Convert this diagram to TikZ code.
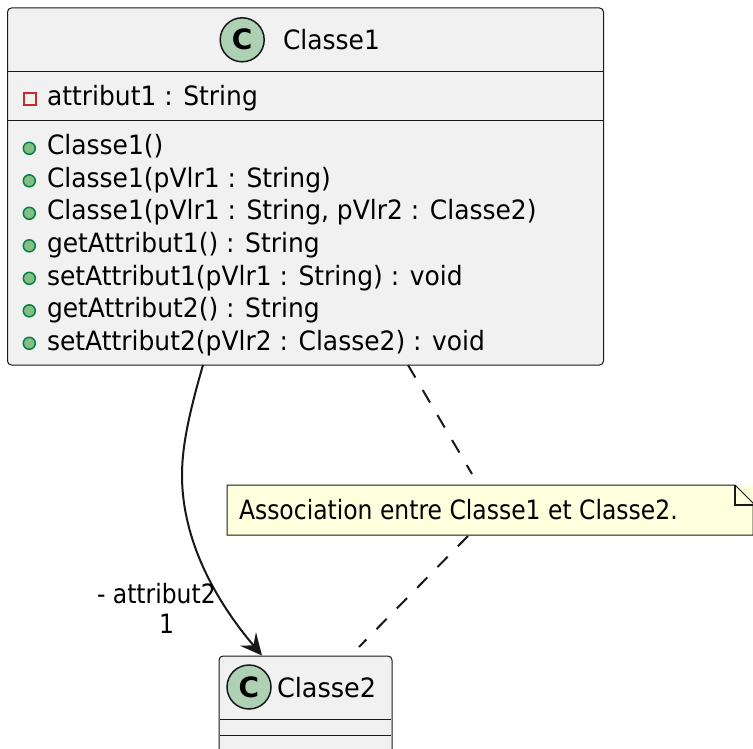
\documentclass[tikz,border=0pt]{standalone}
\usepackage{fontspec}
\setmainfont{DejaVu Sans}
\newfontfamily\fontA{DejaVu Sans}[FakeStretch=0.9386]
\newfontfamily\fontB{DejaVu Sans}[FakeStretch=0.882]
\newfontfamily\fontC{DejaVu Sans}[FakeStretch=0.96]
\newfontfamily\spotfont{DejaVu Sans}
\usetikzlibrary{arrows.meta}
\definecolor{boxfill}{HTML}{F1F1F1}
\definecolor{ink}{HTML}{181818}
\definecolor{spotfill}{HTML}{ADD1B2}
\definecolor{notefill}{HTML}{FEFFDD}
\definecolor{privred}{HTML}{C82930}
\definecolor{pubgreen}{HTML}{038048}
\definecolor{pubfill}{HTML}{84BE84}
\tikzset{
  x=1pt,y=-1pt,
  every node/.style={inner sep=0pt,outer sep=0pt},
  classbox/.style={draw=ink,fill=boxfill,line width=1pt,rounded corners=4pt,anchor=north west},
  divider/.style={draw=ink,line width=1pt},
  spot/.style={circle,draw=ink,fill=spotfill,line width=1.5pt,minimum size=44pt,font=\spotfont\bfseries\fontsize{28}{28}\selectfont},
  txt/.style={anchor=base west,font=\fontA\fontsize{26.6}{32}\selectfont,text=black},
  txtb/.style={txt,font=\fontB\fontsize{26.6}{32}\selectfont},
  txtc/.style={txt,font=\fontC\fontsize{26.6}{32}\selectfont},
  privmark/.style={rectangle,draw=privred,line width=2pt,minimum width=12pt,minimum height=12pt},
  pubmark/.style={circle,draw=pubgreen,fill=pubfill,line width=1.5pt,minimum size=12pt},
  link/.style={draw=ink,line width=2pt},
  dashlink/.style={draw=ink,line width=2pt,dash pattern=on 14.5pt off 14.5pt},
  notebody/.style={fill=notefill,anchor=north west},
  notefold/.style={draw=ink,line width=1pt,fill=notefill},
  foldline/.style={draw=ink,line width=1.5pt},
}
\begin{document}
\begin{tikzpicture}
\useasboundingbox (0,0) rectangle (753,749);
\clip (0,0) rectangle (753,749);
% Classe1
\node[classbox,minimum width=596pt,minimum height=357pt] (classA) at (7.5,8) {};
\node[spot] (spotA) at (242.2,39.8) {C};
\node[txt] (nameA) at (283,50) {Classe1};
\draw[divider] (8,72) -- (603,72);
\draw[divider] (8,120.5) -- (603,120.5);
\node[privmark] (mA) at (29.5,99.5) {};
\node[txt] (attrA) at (47,106) {attribut1 : String};
\foreach \i/\t in {0/{Classe1()},1/{Classe1(pVlr1 : String)},2/{Classe1(pVlr1 : String, pVlr2 : Classe2)},3/{getAttribut1() : String},4/{setAttribut1(pVlr1 : String) : void},5/{getAttribut2() : String},6/{setAttribut2(pVlr2 : Classe2) : void}}{
  \node[pubmark] (pm\i) at (29.3,{148.3+32.5*\i}) {};
  \node[txt] (meth\i) at (47,{155+32.5*\i}) {\t};
}
% Classe2
\node[classbox,minimum width=173pt,minimum height=120pt] (classB) at (219,656) {};
\node[spot] (spotB) at (249,687) {C};
\node[txtc] (nameB) at (277,697) {Classe2};
\draw[divider] (220,719.5) -- (391,719.5);
\draw[divider] (220,735.5) -- (391,735.5);
% Note
\node[notebody,minimum width=526pt,minimum height=50pt] (note) at (227,485) {};
\draw[notefold] (note.north west) -- (735,485) -- (753,503) -- (753,535) -- (note.south west) -- cycle;
\draw[foldline] (735,485) -- (735,505) -- (753,505);
\node[txtb] (noteT) at (239,519) {Association entre Classe1 et Classe2.};
% Connectors
\coordinate (aOut) at (203,365);
\coordinate (aIn) at (262,655.5);
\coordinate (nA) at (408,365);
\coordinate (nB) at (472,474);
\coordinate (nC) at (468,536);
\coordinate (nD) at (359,647);
\draw[link,-{Stealth[length=21.6pt,width=20.8pt,inset=8.3pt]}] (aOut) .. controls (190,410) and (182,445) .. (182,475) .. controls (182,540) and (215,600) .. (aIn);
\draw[dashlink] (nA) -- (nB);
\draw[dashlink] (nC) -- (nD);
% Labels
\node[txtb] (lblA) at (97,603) {- attribut2};
\node[txtb] (lblB) at (159,633) {1};
\end{tikzpicture}
\end{document}
